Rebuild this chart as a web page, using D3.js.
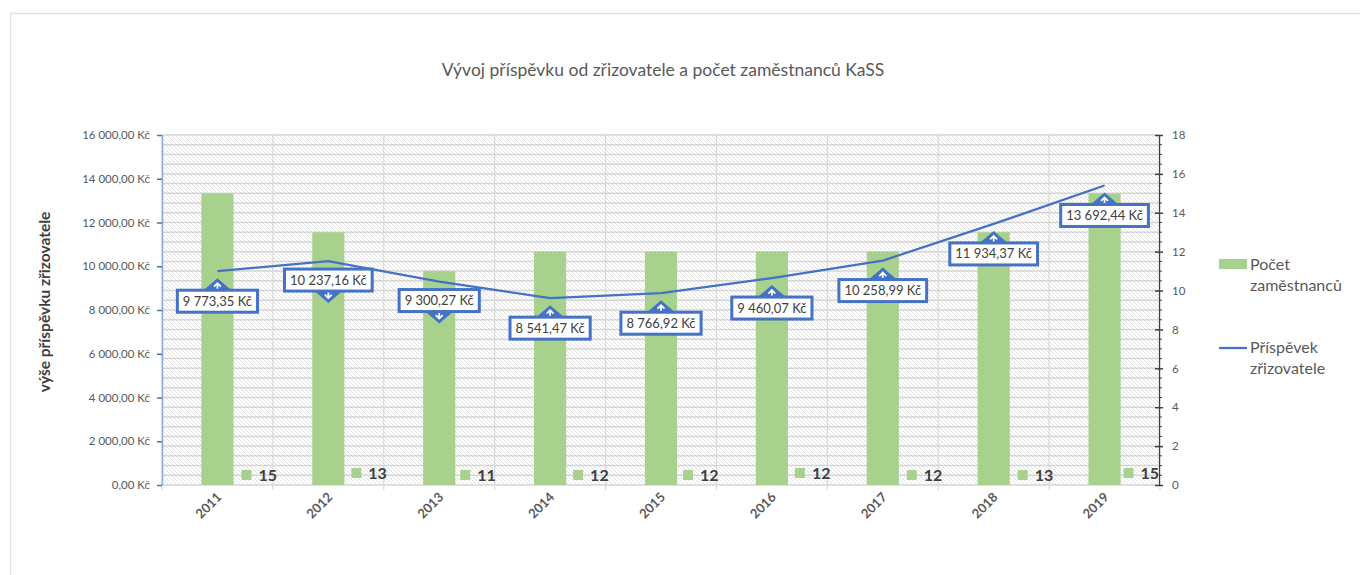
<!DOCTYPE html>
<html>
<head>
<meta charset="utf-8">
<script src="https://cdn.jsdelivr.net/npm/d3@7"></script>
<style>
  body { margin: 0; background: #fff; }
  text { font-family: Lato, "Open Sans", sans-serif; }
</style>
</head>
<body>
<script>
// data
var years = ['2011', '2012', '2013', '2014', '2015', '2016', '2017', '2018', '2019'];
var staff = [15, 13, 11, 12, 12, 12, 12, 13, 15];
var grant = [9773.35, 10237.16, 9300.27, 8541.47, 8766.92, 9460.07, 10258.99, 11934.37, 13692.44];
var leftTicks = [0, 2000, 4000, 6000, 8000, 10000, 12000, 14000, 16000];
var rightTicks = [0, 2, 4, 6, 8, 10, 12, 14, 16, 18];

// callout pointer direction and where the staff label sits next to its bar
var calloutDir = ['up', 'down', 'down', 'up', 'up', 'up', 'up', 'up', 'up'];
var labelShift = [24, 23, 21, 23, 22, 23, 24, 24, 19];
var labelLift = [0, -2, 0, 0, 0, -2, 0, 0, -2];

var width = 1360;
var height = 575;
var blue = '#4472C4';
var green = '#A9D18E';

var svg = d3.select('body')
    .append('svg')
    .attr('width', width)
    .attr('height', height);

// hatch for the plot background
var defs = svg.append('defs');
defs.append('pattern')
    .attr('id', 'hatch')
    .attr('patternUnits', 'userSpaceOnUse')
    .attr('width', 4)
    .attr('height', 4)
    .append('path')
    .attr('d', 'M-1,-1 L5,5 M-1,3 L1,5 M3,-1 L5,1')
    .attr('stroke', '#e2e2e2')
    .attr('stroke-width', 1);

// chart frame
svg.append('path')
    .attr('d', 'M10.5,575 L10.5,13.5 L1360,13.5')
    .attr('fill', 'none')
    .attr('stroke', '#e3e3e3')
    .attr('stroke-width', 1.5);

var x = d3.scaleBand()
    .domain(years)
    .range([162, 1160])
    .paddingInner(0.71)
    .paddingOuter(0.355);

var yL = d3.scaleLinear().domain([0, 16000]).range([485, 135]);
var yR = d3.scaleLinear().domain([0, 18]).range([485, 135]);

function cx(d) { return x(d) + x.bandwidth() / 2; }

svg.append('rect')
    .attr('x', 162)
    .attr('y', 135)
    .attr('width', 998)
    .attr('height', 350)
    .attr('fill', 'url(#hatch)');

// horizontal gridlines every half unit of the right axis
svg.append('g')
    .selectAll('line')
    .data(d3.range(0, 36.5).map(function(i) { return i / 2; }))
    .enter()
    .append('line')
    .attr('x1', 162)
    .attr('x2', 1160)
    .attr('y1', function(d) { return yR(d); })
    .attr('y2', function(d) { return yR(d); })
    .attr('stroke', '#d6d6d6')
    .attr('stroke-width', 1.5);

// vertical gridlines at category boundaries
var bounds = years.map(function(d) { return cx(d) - x.step() / 2; }).concat([1160]);
svg.append('g')
    .selectAll('line')
    .data(bounds)
    .enter()
    .append('line')
    .attr('x1', function(d) { return d; })
    .attr('x2', function(d) { return d; })
    .attr('y1', 135)
    .attr('y2', 490)
    .attr('stroke', '#d9d9d9')
    .attr('stroke-width', 1.2);

// bars
svg.append('g')
    .selectAll('rect')
    .data(staff)
    .enter()
    .append('rect')
    .attr('x', function(d, i) { return x(years[i]); })
    .attr('y', function(d) { return yR(d); })
    .attr('width', x.bandwidth())
    .attr('height', function(d) { return yR(0) - yR(d); })
    .attr('fill', green);

// staff labels with legend key
var lab = svg.append('g')
    .selectAll('g')
    .data(staff)
    .enter()
    .append('g')
    .attr('transform', function(d, i) {
        return 'translate(' + (cx(years[i]) + labelShift[i]) + ',' + (470 + labelLift[i]) + ')';
    });
lab.append('rect')
    .attr('width', 10)
    .attr('height', 10)
    .attr('fill', green);
lab.append('text')
    .attr('x', 17)
    .attr('y', 11)
    .attr('font-size', 16)
    .attr('font-weight', 'bold')
    .attr('fill', '#404040')
    .text(function(d) { return d; });

// left axis
var fmt = d3.formatLocale({ decimal: ',', thousands: '\u00a0', grouping: [3], currency: ['', ''] });
var money = function(v) { return fmt.format(',.2f')(v) + ' Kč'; };

var axL = svg.append('g')
    .attr('transform', 'translate(162,0)')
    .call(d3.axisLeft(yL).tickValues(leftTicks).tickFormat(money).tickSize(5).tickSizeOuter(0));
axL.select('.domain').attr('stroke', '#8faadc').attr('stroke-width', 1.5);
axL.selectAll('.tick line').attr('stroke', blue).attr('stroke-width', 1.5);
axL.selectAll('.tick text')
    .attr('x', -12)
    .attr('font-size', 11.5)
    .attr('font-family', 'Lato, sans-serif')
    .attr('fill', '#595959');

// right axis, with minor ticks
var axR = svg.append('g')
    .attr('transform', 'translate(1159,0)')
    .call(d3.axisRight(yR).tickValues(rightTicks).tickSize(4).tickSizeOuter(0));
axR.select('.domain').attr('stroke', '#404040').attr('stroke-width', 1.2);
axR.selectAll('.tick line').attr('x1', -4).attr('stroke', '#404040').attr('stroke-width', 1.5);
axR.selectAll('.tick text')
    .attr('x', 13)
    .attr('font-size', 11.5)
    .attr('font-family', 'Lato, sans-serif')
    .attr('fill', '#595959');
axR.append('g')
    .selectAll('line')
    .data(d3.range(0, 36).map(function(i) { return i / 2; }).filter(function(d) { return d % 2 !== 0; }))
    .enter()
    .append('line')
    .attr('x1', 0)
    .attr('x2', 3)
    .attr('y1', function(d) { return yR(d); })
    .attr('y2', function(d) { return yR(d); })
    .attr('stroke', '#404040')
    .attr('stroke-width', 1);

// category labels
svg.append('g')
    .selectAll('text')
    .data(years)
    .enter()
    .append('text')
    .attr('transform', function(d) { return 'translate(' + (cx(d) + 5) + ',498) rotate(-45)'; })
    .attr('text-anchor', 'end')
    .attr('font-size', 13)
    .attr('font-weight', 'bold')
    .attr('fill', '#595959')
    .text(function(d) { return d; });

// grant line
var line = d3.line()
    .x(function(d, i) { return cx(years[i]); })
    .y(function(d) { return yL(d); });
svg.append('path')
    .datum(grant)
    .attr('d', line)
    .attr('fill', 'none')
    .attr('stroke', blue)
    .attr('stroke-width', 2.25);

// callouts
var co = svg.append('g')
    .selectAll('g')
    .data(grant)
    .enter()
    .append('g')
    .attr('transform', function(d, i) {
        var off = calloutDir[i] === 'up' ? 30 : 19;
        return 'translate(' + cx(years[i]) + ',' + (yL(d) + off) + ')';
    });
co.each(function(d, i) {
    var g = d3.select(this);
    var txt = money(d).replace(/\u00a0/g, ' ');
    var t = g.append('text')
        .attr('text-anchor', 'middle')
        .attr('y', 4.5)
        .attr('font-size', 13)
        .attr('fill', '#404040')
        .text(txt);
    var w = t.node().getComputedTextLength() + 11;
    var hw = w / 2;
    var up = calloutDir[i] === 'up';
    var edge = up ? -11 : 11;
    var tip = up ? -23 : 23;
    g.insert('path', 'text')
        .attr('d', 'M-14,' + edge + ' L0,' + tip + ' L14,' + edge + ' Z')
        .attr('fill', blue);
    g.insert('rect', 'text')
        .attr('x', -hw)
        .attr('y', -11)
        .attr('width', w)
        .attr('height', 22)
        .attr('fill', '#fff')
        .attr('stroke', blue)
        .attr('stroke-width', 3);
    var head = up ? tip + 5 : tip - 5;
    var dir = up ? 1 : -1;
    g.insert('path', 'text')
        .attr('d', 'M0,' + (edge - dir * 1.5) + ' L0,' + head +
            ' M-3.5,' + (head + 3.5 * dir) + ' L0,' + head + ' L3.5,' + (head + 3.5 * dir))
        .attr('fill', 'none')
        .attr('stroke', '#fff')
        .attr('stroke-width', 1.8);
});

// title
svg.append('text')
    .attr('x', 663)
    .attr('y', 76)
    .attr('text-anchor', 'middle')
    .attr('font-size', 17.5)
    .attr('fill', '#595959')
    .text('Vývoj příspěvku od zřizovatele a počet zaměstnanců KaSS');

// left axis title
svg.append('text')
    .attr('transform', 'translate(50,302) rotate(-90)')
    .attr('text-anchor', 'middle')
    .attr('font-size', 15.5)
    .attr('font-weight', 'bold')
    .attr('fill', '#404040')
    .text('výše příspěvku zřizovatele');

// legend
var leg = svg.append('g');
leg.append('rect')
    .attr('x', 1219)
    .attr('y', 259)
    .attr('width', 28)
    .attr('height', 10)
    .attr('fill', green);
leg.append('line')
    .attr('x1', 1219)
    .attr('x2', 1247)
    .attr('y1', 348)
    .attr('y2', 348)
    .attr('stroke', blue)
    .attr('stroke-width', 2.25);
var legText = [['Počet', 'zaměstnanců', 270], ['Příspěvek', 'zřizovatele', 353]];
legText.forEach(function(l) {
    var t = leg.append('text')
        .attr('x', 1250)
        .attr('y', l[2])
        .attr('font-size', 16)
        .attr('fill', '#595959');
    t.append('tspan').attr('x', 1250).text(l[0]);
    t.append('tspan').attr('x', 1250).attr('dy', 21).text(l[1]);
});
</script>
</body>
</html>
